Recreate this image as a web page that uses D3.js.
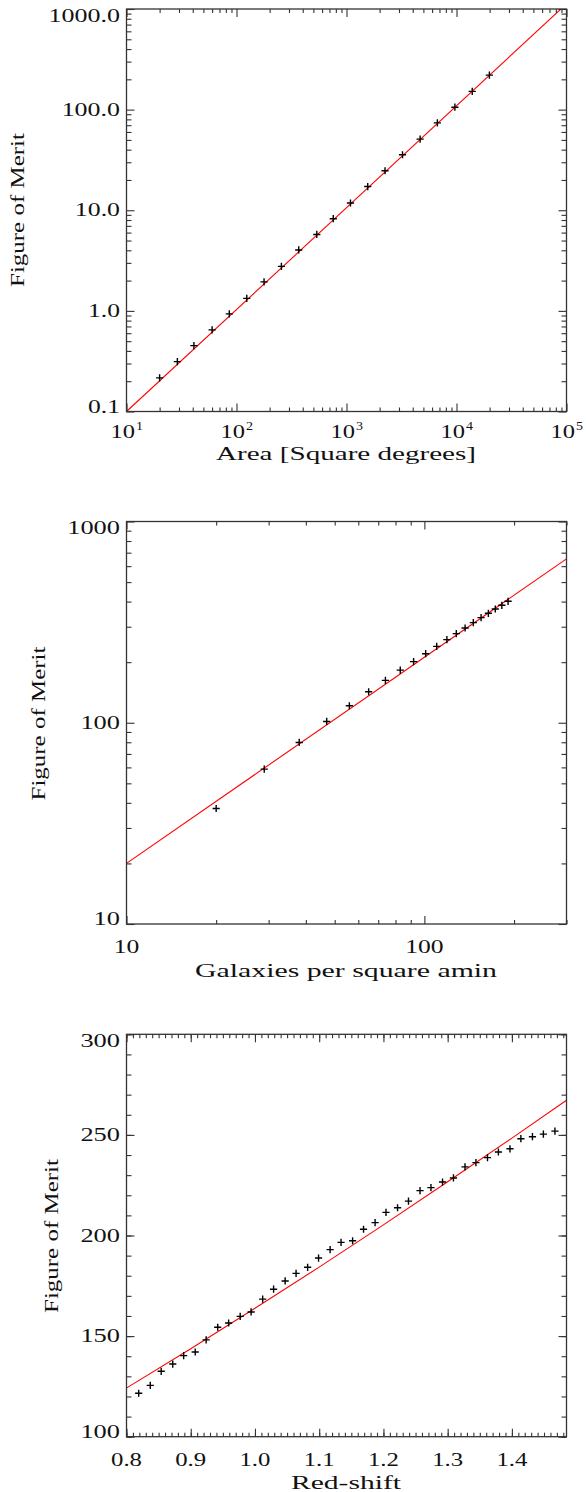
<!DOCTYPE html>
<html lang="en">

<head>
  <title>Figure of Merit</title>
  <meta charset="UTF-8">
  <style>
    body {
      margin: 0;
      background: #fff;
    }

    svg text {
      font-family: "Liberation Serif", serif;
      fill: #111;
    }
  </style>
</head>

<body>
  <div id="container"></div>
  <script src="https://cdn.jsdelivr.net/npm/d3@7/dist/d3.min.js"></script>
  <script>
    // panel 1 : survey area
    const areaDeg = [20, 29, 41, 60, 86, 124, 178, 256, 368, 537, 758, 1087, 1560, 2240, 3230, 4670, 6700, 9670, 13900, 19900];
    const areaFom = [0.216, 0.313, 0.452, 0.647, 0.933, 1.33, 1.94, 2.77, 4.03, 5.75, 8.24, 11.8, 17.2, 24.7, 35.6, 50.9, 73.8, 105.7, 152, 220];
    const areaFitX = [10, 100000];
    const areaFitY = [0.1, 1126];
    const areaXTicks = [10, 100, 1000, 10000, 100000];
    const areaXExp = ['1', '2', '3', '4', '5'];
    const areaYTicks = [0.1, 1, 10, 100, 1000];
    const areaYLabels = ['0.1', '1.0', '10.0', '100.0', '1000.0'];

    // panel 2 : galaxy density
    const galDensity = [20, 29, 38, 47, 56, 65, 74, 83, 92, 101, 110, 119, 128, 137, 146, 155, 164, 173, 182, 191];
    const galFom = [37.5, 58.8, 79.8, 101.5, 121.5, 142.6, 162.3, 182.7, 201.2, 220.4, 239.7, 258.8, 277.3, 295.6, 314.5, 333, 349.9, 367.5, 383.4, 401.3];
    const galFitX = [10, 300];
    const galFitY = [20.0, 652];
    const galXTicks = [10, 100];
    const galXLabels = ['10', '100'];
    const galYTicks = [10, 100, 1000];
    const galYLabels = ['10', '100', '1000'];

    // panel 3 : red-shift
    const redshift = [0.819, 0.837, 0.854, 0.872, 0.889, 0.907, 0.924, 0.942, 0.959, 0.977, 0.994, 1.012, 1.029, 1.047, 1.064, 1.082, 1.099, 1.117, 1.134, 1.152,
      1.169, 1.187, 1.204, 1.222, 1.239, 1.257, 1.274, 1.292, 1.309, 1.327, 1.344, 1.362, 1.379, 1.397, 1.414, 1.432, 1.449, 1.467];
    const zFom = [121.6, 125.5, 132.5, 136.1, 140.3, 142.1, 148.1, 154.4, 156.5, 159.8, 162.0, 168.4, 173.3, 177.4, 181.2, 184.2, 188.8, 193.0, 196.6, 197.4,
      203.1, 206.4, 211.5, 213.8, 217.1, 222.3, 223.8, 226.6, 228.6, 234.1, 236.2, 238.7, 241.5, 243.1, 248.1, 249.1, 250.4, 251.9];
    const zFitX = [0.8, 0.9, 1.0, 1.1, 1.2, 1.3, 1.4, 1.485];
    const zFitY = [124.2, 143.7, 163.8, 184.3, 205.3, 226.7, 248.4, 267.2];
    const zXTicks = [0.8, 0.9, 1.0, 1.1, 1.2, 1.3, 1.4];
    const zXLabels = ['0.8', '0.9', '1.0', '1.1', '1.2', '1.3', '1.4'];
    const zYTicks = [100, 150, 200, 250, 300];
    const zYLabels = ['100', '150', '200', '250', '300'];

    const left = 126.5, right = 566.5;
    const svg = d3.select('#container')
      .append('svg')
      .attr('width', 586)
      .attr('height', 1492);

    function logMinors(domain) {
      const out = [];
      for (let d = Math.floor(Math.log10(domain[0])); d <= Math.ceil(Math.log10(domain[1])); d++) {
        for (let k = 2; k <= 9; k++) {
          const v = k * Math.pow(10, d);
          if (v >= domain[0] * 0.999 && v <= domain[1] * 1.001) out.push(v);
        }
      }
      return out;
    }

    function linMinors(domain, step) {
      const out = [];
      const n = Math.round((domain[1] - domain[0]) / step);
      for (let i = 0; i <= n; i++) out.push(+(domain[0] + i * step).toFixed(4));
      return out;
    }

    // width of a label in the wide plot font
    function labelWidth(s, dw) {
      let w = 0;
      for (const c of s) w += c === '.' ? dw * 0.42 : dw;
      return w;
    }

    function drawPanel(p) {
      const x = p.x.range([left, right]);
      const y = p.y.range([p.bottom, p.top]);
      const g = svg.append('g');

      const clipId = 'clip' + p.id;
      svg.append('clipPath').attr('id', clipId)
        .append('rect')
        .attr('x', left).attr('y', p.top)
        .attr('width', right - left).attr('height', p.bottom - p.top);

      // fit line
      g.append('path')
        .datum(d3.zip(p.fitX, p.fitY))
        .attr('clip-path', 'url(#' + clipId + ')')
        .attr('d', d3.line().x(d => x(d[0])).y(d => y(d[1])).curve(d3.curveMonotoneX))
        .style('fill', 'none')
        .style('stroke', '#ff0000')
        .style('stroke-width', 1.1);

      // data points
      g.selectAll('path.pt')
        .data(d3.zip(p.px, p.py))
        .join('path')
        .attr('class', 'pt')
        .attr('transform', d => `translate(${x(d[0])},${y(d[1])})`)
        .attr('d', 'M-3.6,0H3.6M0,-3.6V3.6')
        .style('stroke', '#000')
        .style('stroke-width', 1.4);

      // ticks on all four sides, pointing inwards
      const sides = [
        [d3.axisBottom, x, p.bottom, 'x'],
        [d3.axisTop, x, p.top, 'x'],
        [d3.axisLeft, y, left, 'y'],
        [d3.axisRight, y, right, 'y']
      ];
      sides.forEach(([axisFn, sc, pos, dim]) => {
        [[dim === 'x' ? p.xMinor : p.yMinor, dim === 'x' ? 4 : 5], [dim === 'x' ? p.xTicks : p.yTicks, 8]].forEach(([vals, len]) => {
          const a = g.append('g')
            .attr('transform', dim === 'x' ? `translate(0,${pos})` : `translate(${pos},0)`)
            .call(axisFn(sc).tickValues(vals).tickSize(-len).tickSizeOuter(0).tickFormat(''));
          a.select('.domain').remove();
          a.selectAll('text').remove();
          a.selectAll('line').style('stroke', '#333').style('stroke-width', 1.1);
        });
      });

      // frame
      g.append('rect')
        .attr('x', left).attr('y', p.top)
        .attr('width', right - left).attr('height', p.bottom - p.top)
        .style('fill', 'none')
        .style('stroke', '#333')
        .style('stroke-width', 1.3);

      // y tick labels
      p.yTicks.forEach((v, i) => {
        const cy = Math.max(p.top + 6.8, Math.min(p.bottom - 4.8, y(v)));
        const s = p.yLabels[i];
        g.append('text')
          .attr('x', 120)
          .attr('y', cy + 6)
          .attr('text-anchor', 'end')
          .attr('font-size', 18)
          .attr('textLength', labelWidth(s, 13.2))
          .attr('lengthAdjust', 'spacingAndGlyphs')
          .text(s);
      });

      // x tick labels
      p.xTicks.forEach((v, i) => {
        const cx = x(v);
        if (p.xExp) {
          g.append('text')
            .attr('x', cx - 16)
            .attr('y', p.bottom + p.xLabelDy)
            .attr('font-size', 19)
            .attr('textLength', 24.5)
            .attr('lengthAdjust', 'spacingAndGlyphs')
            .text('10');
          g.append('text')
            .attr('x', cx + 9.5)
            .attr('y', p.bottom + p.xLabelDy - 7.5)
            .attr('font-size', 13)
            .attr('textLength', 7)
            .attr('lengthAdjust', 'spacingAndGlyphs')
            .text(p.xExp[i]);
        } else {
          const s = p.xLabels[i];
          g.append('text')
            .attr('x', cx)
            .attr('y', p.bottom + p.xLabelDy)
            .attr('text-anchor', 'middle')
            .attr('font-size', 19)
            .attr('textLength', labelWidth(s, 12.8))
            .attr('lengthAdjust', 'spacingAndGlyphs')
            .text(s);
        }
      });

      // axis titles
      g.append('text')
        .attr('x', 346)
        .attr('y', p.xTitleY)
        .attr('text-anchor', 'middle')
        .attr('font-size', 19)
        .attr('textLength', p.xTitleLen)
        .attr('lengthAdjust', 'spacingAndGlyphs')
        .text(p.xTitle);
      g.append('text')
        .attr('transform', `translate(${p.yTitleX},${p.yTitleCy}) rotate(-90)`)
        .attr('text-anchor', 'middle')
        .attr('font-size', 19)
        .attr('textLength', 154)
        .attr('lengthAdjust', 'spacingAndGlyphs')
        .text('Figure of Merit');
    }

    drawPanel({
      id: 1, top: 9, bottom: 411.5,
      x: d3.scaleLog().domain([10, 100000]),
      y: d3.scaleLog().domain([0.1, 1000]),
      px: areaDeg, py: areaFom, fitX: areaFitX, fitY: areaFitY,
      xTicks: areaXTicks, xExp: areaXExp, xMinor: logMinors([10, 100000]),
      yTicks: areaYTicks, yLabels: areaYLabels, yMinor: logMinors([0.1, 1000]),
      xLabelDy: 26, xTitle: 'Area [Square degrees]', xTitleY: 460, xTitleLen: 260,
      yTitleX: 24, yTitleCy: 210
    });

    drawPanel({
      id: 2, top: 521.5, bottom: 924,
      x: d3.scaleLog().domain([10, 300]),
      y: d3.scaleLog().domain([10, 1000]),
      px: galDensity, py: galFom, fitX: galFitX, fitY: galFitY,
      xTicks: galXTicks, xLabels: galXLabels, xMinor: logMinors([10, 300]),
      yTicks: galYTicks, yLabels: galYLabels, yMinor: logMinors([10, 1000]),
      xLabelDy: 29, xTitle: 'Galaxies per square amin', xTitleY: 977, xTitleLen: 302,
      yTitleX: 45, yTitleCy: 723.5
    });

    drawPanel({
      id: 3, top: 1034.3, bottom: 1436.7,
      x: d3.scaleLinear().domain([0.8, 1.485]),
      y: d3.scaleLinear().domain([100, 300]),
      px: redshift, py: zFom, fitX: zFitX, fitY: zFitY,
      xTicks: zXTicks, xLabels: zXLabels, xMinor: linMinors([0.8, 1.48], 0.01),
      yTicks: zYTicks, yLabels: zYLabels, yMinor: linMinors([100, 300], 10),
      xLabelDy: 29, xTitle: 'Red-shift', xTitleY: 1488.5, xTitleLen: 110,
      yTitleX: 58, yTitleCy: 1236
    });
  </script>
</body>

</html>
